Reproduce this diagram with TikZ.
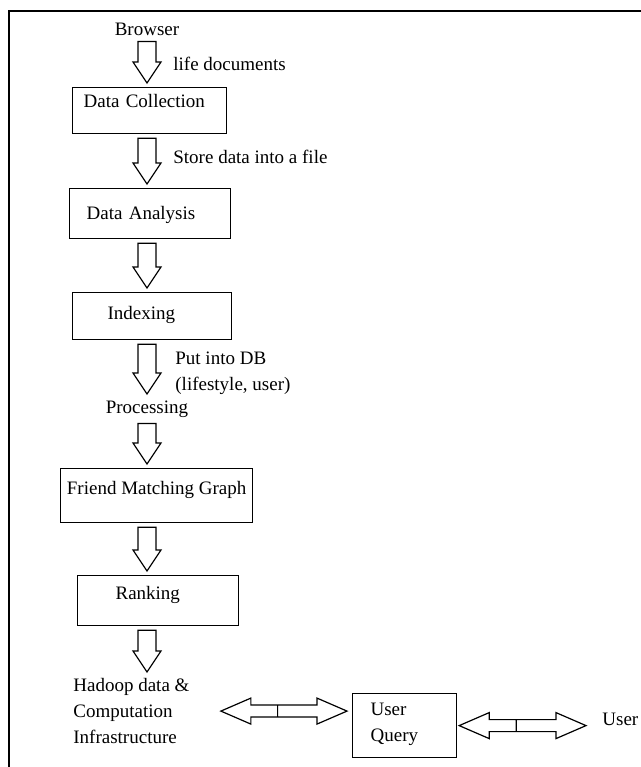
\documentclass[tikz,border=0pt]{standalone}
\usepackage{fontspec}
\setmainfont{Liberation Serif}
\usetikzlibrary{calc}

\tikzset{
  stagebox/.style={draw, line width=0.6pt, inner ysep=0pt, anchor=north west},
  plaintext/.style={inner sep=1pt},
  hollow/.style={draw, fill=white, line width=0.6pt},
  blockdown/.style={to path={let \p1=(\tikztostart), \p2=(\tikztotarget) in
    (\x1-4.5pt,\y1-2pt) -- (\x1-4.5pt,\y2+12.5pt) -- (\x1-7pt,\y2+12.5pt) -- (\x1,\y2+2pt)
    -- (\x1+7pt,\y2+12.5pt) -- (\x1+4.5pt,\y2+12.5pt) -- (\x1+4.5pt,\y1-2pt) -- cycle}},
  blockboth/.style 2 args={to path={let \p1=($(\tikztostart)+(#1,0)$), \p2=($(\tikztotarget)+(-#2,0)$),
    \p3=($(\p1)!0.45!(\p2)$) in
    (\x1,\y1) -- (\x1+15pt,\y1+6.5pt) -- (\x1+15pt,\y1+3pt) -- (\x2-15pt,\y1+3pt) -- (\x2-15pt,\y1+6.5pt)
    -- (\x2,\y1) -- (\x2-15pt,\y1-6.5pt) -- (\x2-15pt,\y1-3pt) -- (\x1+15pt,\y1-3pt) -- (\x1+15pt,\y1-6.5pt) -- cycle
    (\x3,\y1+3pt) -- (\x3,\y1-3pt)}}
}

\begin{document}
\begin{tikzpicture}[x=0.5pt, y=-0.5pt, font=\fontsize{9.5}{13}\selectfont]
  \useasboundingbox (0,0) rectangle (641,767);
  \draw[line width=1pt] (641,11) -- (9,11) -- (9,767);

  \node[plaintext, anchor=base] (browser) at (147,35) {Browser};
  \node[plaintext, anchor=base west] (lifedocs) at (171,70) {life documents};
  \node[stagebox, align=left, text width=66pt, inner xsep=5.5pt, text height=10pt, text depth=13pt] (collect) at (72,87) {Data Collection};
  \node[plaintext, anchor=base west] (storefile) at (171,163) {Store data into a file};
  \node[stagebox, align=left, text width=63.5pt, inner xsep=8.5pt, text height=15.5pt, text depth=9.5pt] (analysis) at (69,188) {Data Analysis};
  \node[stagebox, align=left, text width=44.5pt, inner xsep=17.5pt, text height=13.5pt, text depth=10pt] (indexing) at (72,292) {Indexing};
  \node[plaintext, anchor=north west, align=left] (putdb) at (173,350) {Put into DB\\(lifestyle, user)};
  \node[plaintext, anchor=base] (processing) at (147,413) {Processing};
  \node[stagebox, minimum width=96pt, inner xsep=0pt, text height=13pt, text depth=14pt] (friendgraph) at (60,468) {Friend Matching Graph};
  \node[stagebox, align=left, text width=42.5pt, inner xsep=19pt, text height=12pt, text depth=13pt] (ranking) at (77,575) {Ranking};
  \node[plaintext, anchor=north west, align=left] (hadoop) at (71,676) {Hadoop data \&\\Computation\\Infrastructure};
  \node[stagebox, align=left, text width=34pt, inner xsep=9pt, text height=11pt, text depth=21pt] (userquery) at (352,693) {User\\Query};
  \node[plaintext, anchor=base west] (user) at (600,725) {User};

  \draw[hollow] (browser.south) to[blockdown] (collect.north);
  \draw[hollow] (collect.south -| browser.south) to[blockdown] (analysis.north);
  \draw[hollow] (analysis.south -| browser.south) to[blockdown] (indexing.north);
  \draw[hollow] (indexing.south -| browser.south) to[blockdown] (processing.north);
  \draw[hollow] (processing.south) to[blockdown] (friendgraph.north);
  \draw[hollow] (friendgraph.south -| browser.south) to[blockdown] (ranking.north);
  \draw[hollow] (ranking.south -| browser.south) to[blockdown] (hadoop.north);

  \draw[hollow] (hadoop.east) to[blockboth={14.5pt}{2.5pt}] (userquery.west);
  \draw[hollow] (userquery.east) to[blockboth={1pt}{7pt}] (user.west);
\end{tikzpicture}
\end{document}
